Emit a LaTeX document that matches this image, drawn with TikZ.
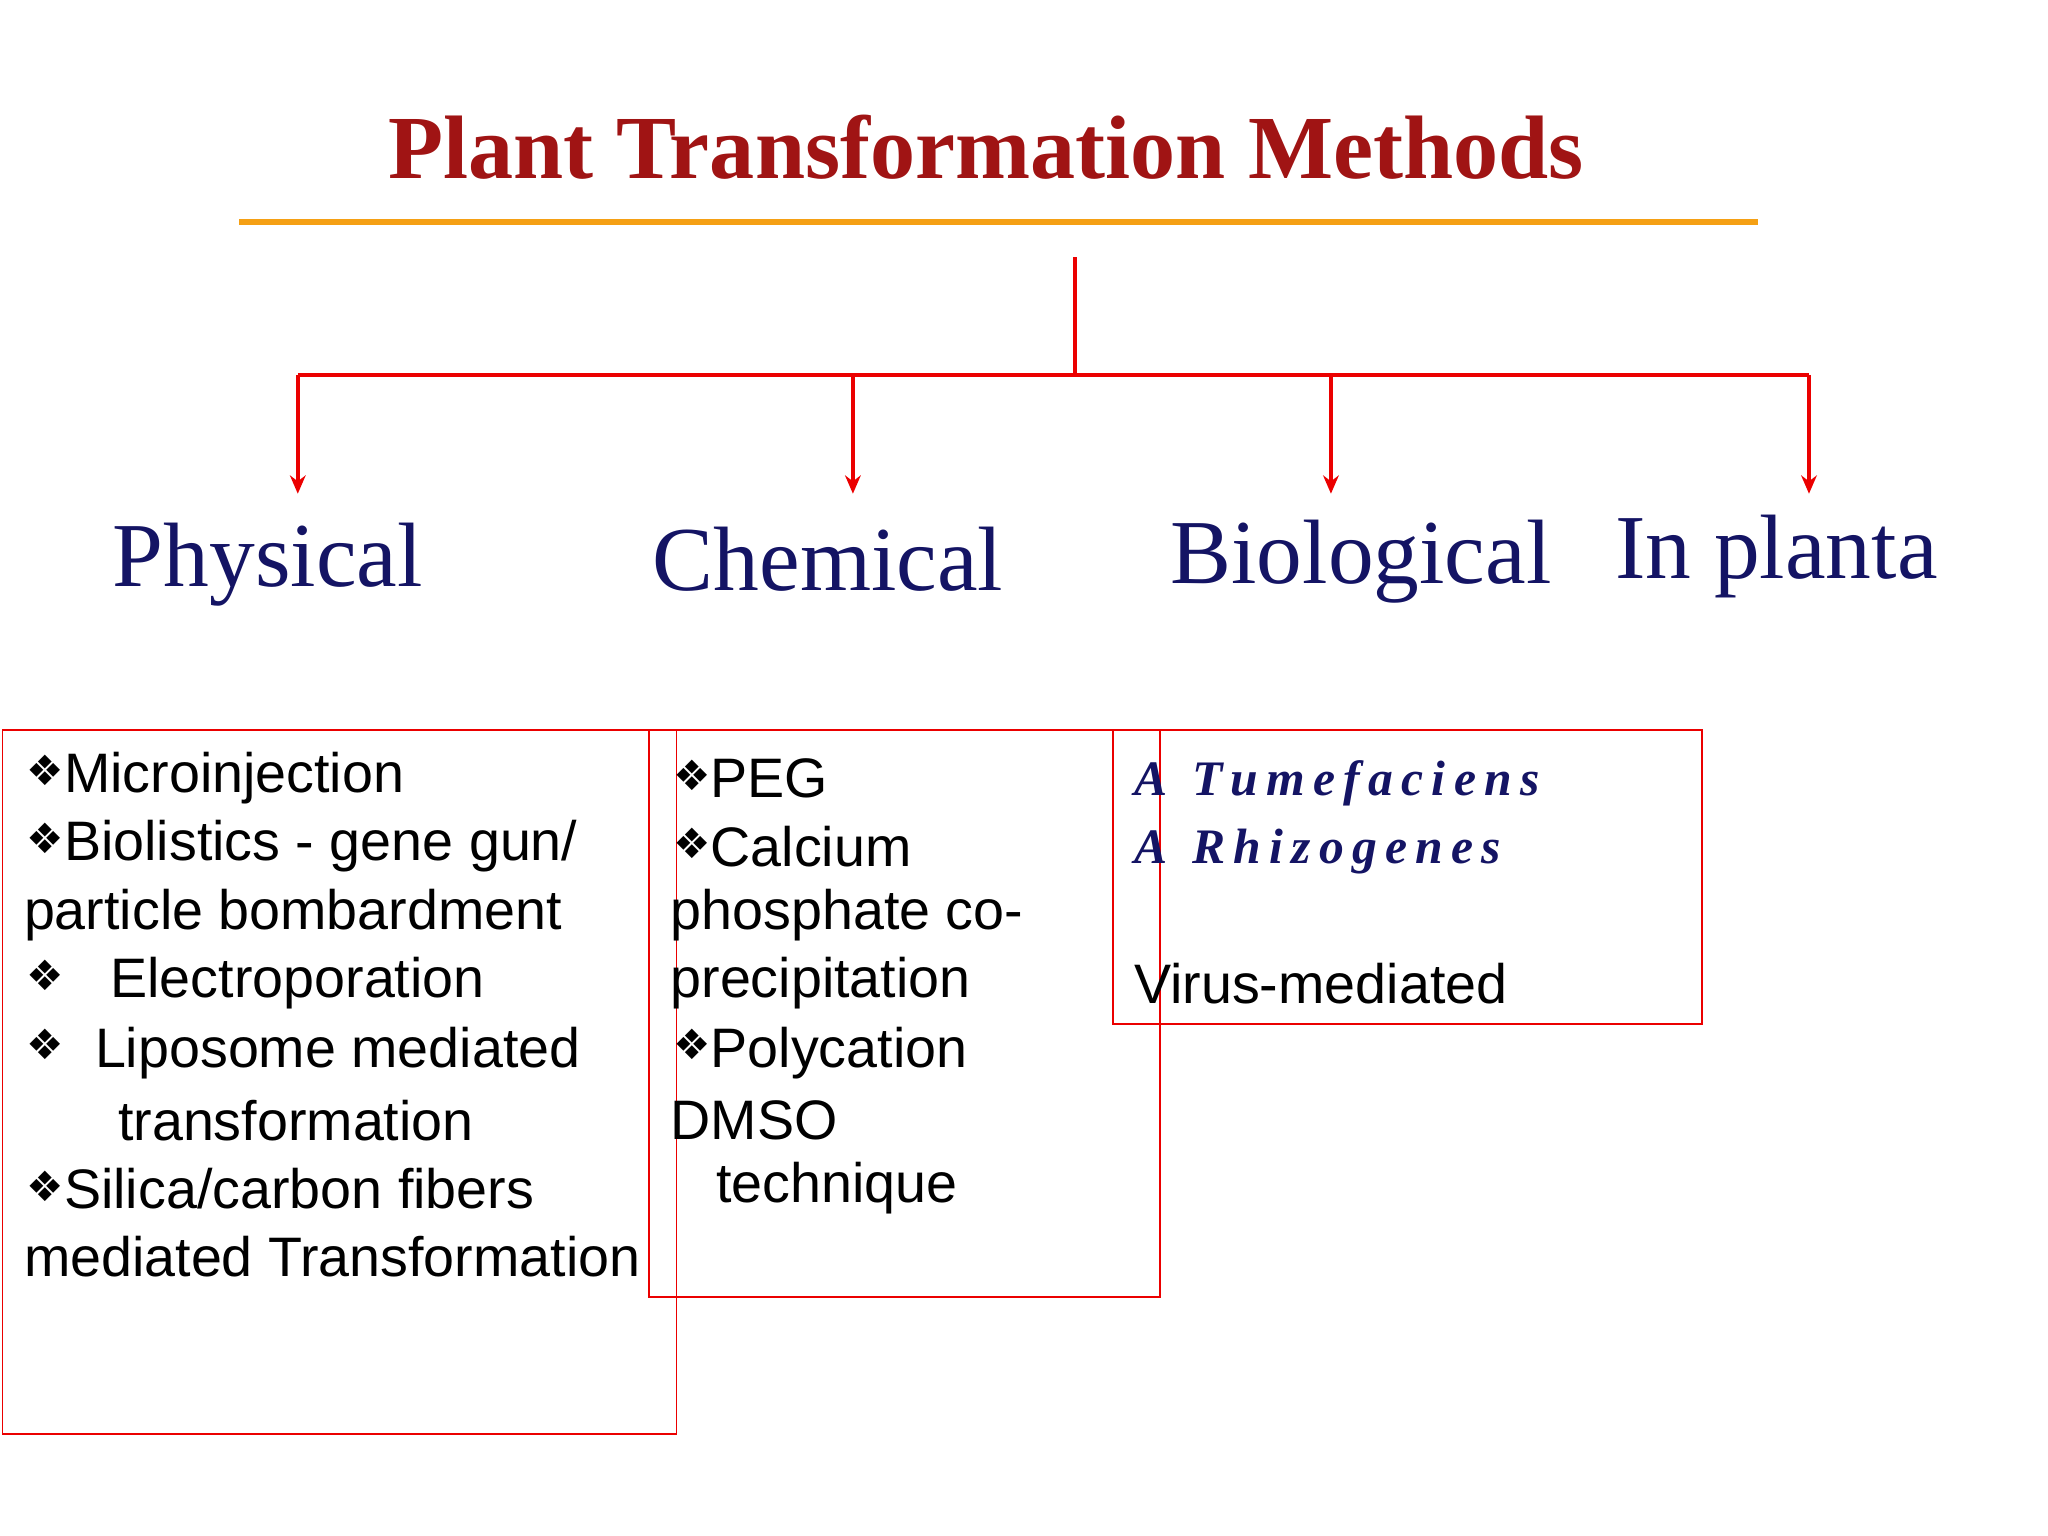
\documentclass[tikz,border=0pt]{standalone}
\usepackage{fontspec}
\setmainfont{Liberation Serif}
\setsansfont{Liberation Sans}
\newfontfamily\djv{DejaVu Sans}
\usetikzlibrary{arrows.meta}
\definecolor{titlered}{RGB}{160,20,20}
\definecolor{navy}{RGB}{20,20,100}
\definecolor{linered}{RGB}{235,0,0}
\definecolor{orangeline}{RGB}{245,160,20}
\newcommand{\dmd}{\raisebox{0.25ex}{\djv\fontsize{16}{16}\selectfont\char"2756}}
\tikzset{
  cat/.style={font=\fontsize{35}{40}\selectfont, text=navy, inner sep=0},
  item/.style={font=\sffamily\fontsize{21.3}{24}\selectfont, anchor=west, inner sep=0},
  box/.style={draw=linered, line width=0.6pt},
  tree/.style={draw=linered, line width=1.5pt},
  arr/.style={tree, -{Stealth[length=7pt,width=6pt]}}
}
\begin{document}
\begin{tikzpicture}[x=0.5pt,y=-0.5pt]
\useasboundingbox (0,0) rectangle (1568,1176);
\node[font=\bfseries\fontsize{34.5}{38}\selectfont, text=titlered, inner sep=0] (title) at (755,113) {Plant Transformation Methods};
\draw[orangeline, line width=2pt] (183,170) -- (1346,170);
\coordinate (top) at (823,197);
\coordinate (mid) at (823,287);
\coordinate (l) at (228,287);
\coordinate (r) at (1385,287);
\coordinate (b1) at (653,287);
\coordinate (b2) at (1019,287);
\node[cat] (phys) at (205,432) {Physical};
\node[cat] (chem) at (634,428) {Chemical};
\node[cat] (bio) at (1042,430) {Biological};
\node[cat] (inp) at (1360,426) {In planta};
\coordinate (e1) at (228,378);
\coordinate (e2) at (653,378);
\coordinate (e3) at (1019,378);
\coordinate (e4) at (1385,378);
\draw[tree] (top) -- (mid);
\draw[tree] (l) -- (r);
\draw[arr] (l) -- (e1);
\draw[arr] (b1) -- (e2);
\draw[arr] (b2) -- (e3);
\draw[arr] (r) -- (e4);
\draw[box] (2,559) rectangle (518,1098);
\draw[box] (497,559) rectangle (888,993);
\draw[box] (852,559) rectangle (1303,784);
\node[item] (p1) at (20,596) {\dmd Microinjection};
\node[item] (p2) at (20,648) {\dmd Biolistics - gene gun/};
\node[item] (p3) at (18,701) {particle bombardment};
\node[item] (p4) at (20,753) {\dmd\ \ \ Electroporation};
\node[item] (p5) at (20,806) {\dmd\ \ Liposome mediated};
\node[item] (p6) at (90,858) {transformation};
\node[item] (p7) at (20,910) {\dmd Silica/carbon fibers};
\node[item] (p8) at (18,962) {mediated Transformation};
\node[item] (c1) at (515,596) {\dmd PEG};
\node[item] (c2) at (515,648) {\dmd Calcium};
\node[item] (c3) at (513,701) {phosphate co-};
\node[item] (c4) at (513,753) {precipitation};
\node[item] (c5) at (515,806) {\dmd Polycation};
\node[item] (c6) at (513,858) {DMSO};
\node[item] (c7) at (548,910) {technique};
\node[item, text=navy, font=\itshape\bfseries\fontsize{19}{24}\selectfont] (g1) at (868,600) {A\ \ T\,u\,m\,e\,f\,a\,c\,i\,e\,n\,s};
\node[item, text=navy, font=\itshape\bfseries\fontsize{19}{24}\selectfont] (g2) at (868,652) {A\ \ R\,h\,i\,z\,o\,g\,e\,n\,e\,s};
\node[item] (g3) at (868,753) {Virus-mediated};
\end{tikzpicture}
\end{document}
